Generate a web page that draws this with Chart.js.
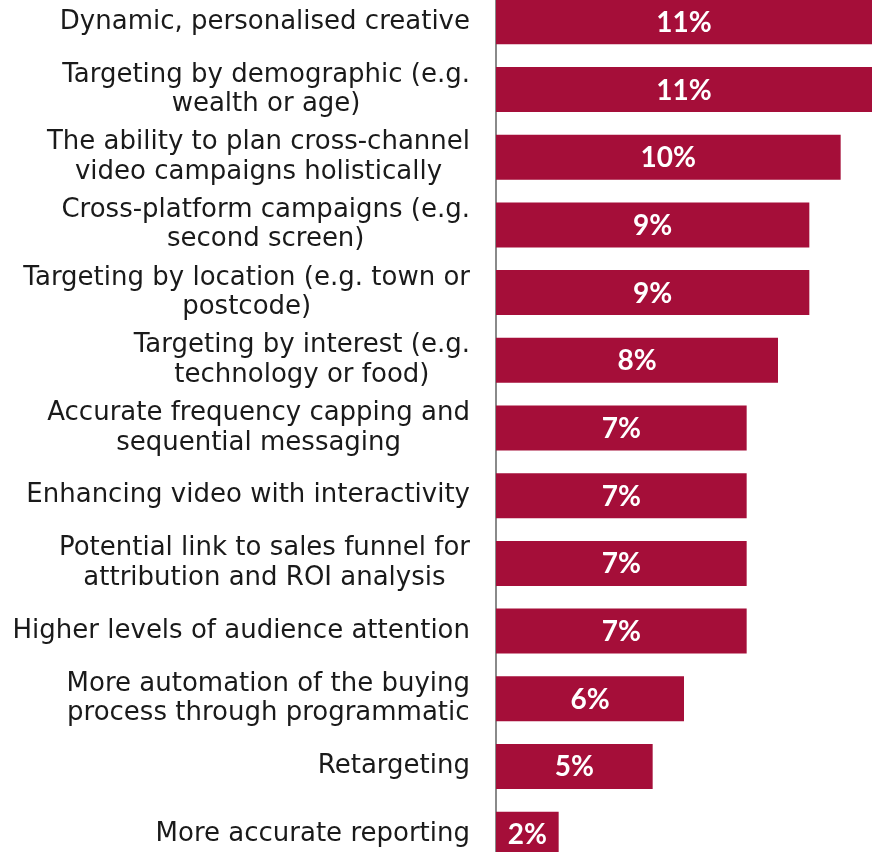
<!DOCTYPE html>
<html>
<head>
<meta charset="utf-8">
<script src="https://cdn.jsdelivr.net/npm/chart.js@4/dist/chart.umd.min.js"></script>
<style>
html,body{margin:0;padding:0;background:#fff;overflow:hidden;}
#wrap{position:absolute;left:0;top:-12px;width:883px;height:880px;}
</style>
</head>
<body>
<div id="wrap"><canvas id="c"></canvas></div>
<script>
const categories = [
  ["Dynamic, personalised creative"],
  ["Targeting by demographic (e.g.", "wealth or age)"],
  ["The ability to plan cross-channel", "video campaigns holistically"],
  ["Cross-platform campaigns (e.g.", "second screen)"],
  ["Targeting by location (e.g. town or", "postcode)"],
  ["Targeting by interest (e.g.", "technology or food)"],
  ["Accurate frequency capping and", "sequential messaging"],
  ["Enhancing video with interactivity"],
  ["Potential link to sales funnel for", "attribution and ROI analysis"],
  ["Higher levels of audience attention"],
  ["More automation of the buying", "process through programmatic"],
  ["Retargeting"],
  ["More accurate reporting"]
];
// bar lengths as drawn in the picture
const barValues = [12, 12, 11, 10, 10, 9, 8, 8, 8, 8, 6, 5, 2];
// the value text printed on each bar
const valueLabels = ["11%", "11%", "10%", "9%", "9%", "8%", "7%", "7%", "7%", "7%", "6%", "5%", "2%"];

// category labels: block right-aligned next to the axis, lines centred within the block
const categoryLabelPlugin = {
  id: 'categoryLabels',
  afterDraw(chart) {
    const ctx = chart.ctx;
    const scale = chart.scales.y;
    const labels = chart.data.labels;
    const lineH = 29.5;
    const rightEdge = scale.right - 26;
    ctx.save();
    ctx.fillStyle = '#1a1a1a';
    ctx.font = '26px "DejaVu Sans"';
    ctx.textAlign = 'center';
    ctx.textBaseline = 'middle';
    labels.forEach((lines, i) => {
      const y = scale.getPixelForTick(i);
      const maxW = Math.max(...lines.map(l => ctx.measureText(l).width));
      const cx = rightEdge - maxW / 2;
      lines.forEach((line, j) => {
        ctx.fillText(line, cx, y + (j - (lines.length - 1) / 2) * lineH);
      });
    });
    ctx.restore();
  }
};

const barLabelPlugin = {
  id: 'barLabels',
  afterDatasetsDraw(chart) {
    const ctx = chart.ctx;
    const meta = chart.getDatasetMeta(0);
    ctx.save();
    ctx.fillStyle = '#ffffff';
    ctx.font = 'bold 28px Lato';
    ctx.textAlign = 'center';
    ctx.textBaseline = 'middle';
    meta.data.forEach((bar, i) => {
      const cx = (bar.base + bar.x) / 2;
      ctx.fillText(valueLabels[i], cx, bar.y + 1);
    });
    ctx.restore();
  }
};

new Chart(document.getElementById('c'), {
  type: 'bar',
  data: {
    labels: categories,
    datasets: [{
      data: barValues,
      backgroundColor: '#A50E39',
      borderWidth: 0,
      barPercentage: 0.665,
      categoryPercentage: 1
    }]
  },
  options: {
    indexAxis: 'y',
    responsive: true,
    maintainAspectRatio: false,
    animation: false,
    layout: { padding: { left: 0, right: 11, top: 0, bottom: 0 } },
    plugins: { legend: { display: false }, tooltip: { enabled: false } },
    scales: {
      x: { display: false, min: 0, max: 12 },
      y: {
        z: 1,
        afterFit(scale) { scale.width = 496; scale.paddingTop = 0; scale.paddingBottom = 0; },
        grid: { display: false, drawTicks: false },
        border: { display: true, color: '#8a8a8a', width: 2 },
        ticks: { display: false }
      }
    }
  },
  plugins: [categoryLabelPlugin, barLabelPlugin]
});
</script>
</body>
</html>
